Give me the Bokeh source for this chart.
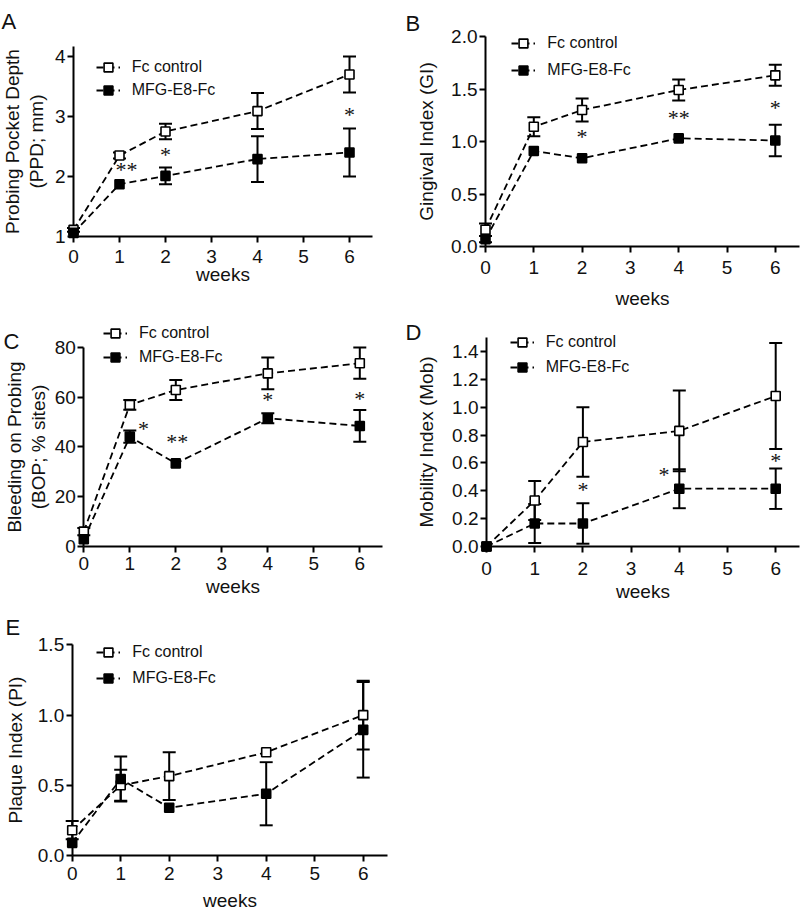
from bokeh.plotting import figure
from bokeh.models import (Range1d, FixedTicker, Whisker, TeeHead, ColumnDataSource,
                          Label, LabelSet, Legend, LegendItem, PrintfTickFormatter)
from bokeh.layouts import row, column
from bokeh.embed import file_html
from bokeh.resources import INLINE

# ---------------- data ----------------
weeks = [0, 1, 2, 4, 6]
x_ticks = [0, 1, 2, 3, 4, 5, 6]
x_tick_labels = ["0", "1", "2", "3", "4", "5", "6"]
series_names = ["Fc control", "MFG-E8-Fc"]
x_label = "weeks"

# A: Probing pocket depth
ppd_fc = [1.11, 2.35, 2.75, 3.09, 3.70]
ppd_fc_err = [0.03, 0.05, 0.13, 0.30, 0.30]
ppd_mfg = [1.06, 1.87, 2.01, 2.29, 2.40]
ppd_mfg_err = [0.0, 0.0, 0.14, 0.38, 0.40]
ppd_range = [1, 4.17]
ppd_ticks = [1, 2, 3, 4]
ppd_tick_labels = ["1", "2", "3", "4"]
ppd_star_x = [1.15, 2, 6]
ppd_star_y = [2.11, 2.36, 3.04]
ppd_star_t = ["**", "*", "*"]
ppd_ylabel = "Probing Pocket Depth\n(PPD; mm)"

# B: Gingival index
gi_fc = [0.16, 1.14, 1.30, 1.49, 1.63]
gi_fc_err = [0.06, 0.09, 0.11, 0.10, 0.10]
gi_mfg = [0.07, 0.91, 0.84, 1.03, 1.01]
gi_mfg_err = [0.03, 0.0, 0.0, 0.0, 0.15]
gi_range = [0, 2.0]
gi_ticks = [0, 0.5, 1.0, 1.5, 2.0]
gi_tick_labels = ["0.0", "0.5", "1.0", "1.5", "2.0"]
gi_star_x = [2, 4, 6]
gi_star_y = [1.05, 1.23, 1.32]
gi_star_t = ["*", "**", "*"]
gi_ylabel = "Gingival Index (GI)"

# C: Bleeding on probing
bop_fc = [5.8, 56.9, 62.9, 69.6, 73.7]
bop_fc_err = [1.5, 2.0, 4.0, 6.4, 6.3]
bop_mfg = [2.7, 44.1, 33.3, 51.5, 48.4]
bop_mfg_err = [0.0, 2.5, 0.0, 2.0, 6.4]
bop_range = [0, 80]
bop_ticks = [0, 20, 40, 60, 80]
bop_tick_labels = ["0", "20", "40", "60", "80"]
bop_star_x = [1.3, 2.03, 4, 6]
bop_star_y = [47.5, 42.1, 58.9, 59.6]
bop_star_t = ["*", "**", "*", "*"]
bop_ylabel = "Bleeding on Probing\n(BOP; % sites)"

# D: Mobility index
mob_fc = [0.0, 0.33, 0.75, 0.83, 1.08]
mob_fc_err = [0.0, 0.14, 0.25, 0.29, 0.38]
mob_mfg = [0.0, 0.165, 0.165, 0.415, 0.415]
mob_mfg_err = [0.0, 0.14, 0.145, 0.14, 0.145]
mob_range = [0, 1.5]
mob_ticks = [0, 0.2, 0.4, 0.6, 0.8, 1.0, 1.2, 1.4]
mob_tick_labels = ["0.0", "0.2", "0.4", "0.6", "0.8", "1.0", "1.2", "1.4"]
mob_star_x = [2, 3.68, 6]
mob_star_y = [0.41, 0.52, 0.62]
mob_star_t = ["*", "*", "*"]
mob_ylabel = "Mobility Index (Mob)"

# E: Plaque index
pi_fc = [0.18, 0.50, 0.565, 0.735, 1.0]
pi_fc_err = [0.065, 0.11, 0.17, 0.0, 0.245]
pi_mfg = [0.09, 0.545, 0.34, 0.44, 0.895]
pi_mfg_err = [0.0, 0.16, 0.0, 0.225, 0.34]
pi_range = [0, 1.5]
pi_ticks = [0, 0.5, 1.0, 1.5]
pi_tick_labels = ["0.0", "0.5", "1.0", "1.5"]
pi_star_x = []
pi_star_y = []
pi_star_t = []
pi_ylabel = "Plaque Index (PI)"

FONT = "Liberation Sans"
INK = "#111111"


def make_panel(letter, fc, fc_err, mfg, mfg_err, yr, yticks, yticklabels, fmt,
               sx, sy, st, ylabel, lay):
    fx, fy, fw, fh = lay["fig"]
    x0, ppw, ybot, ppu = lay["x0"], lay["ppw"], lay["ybot"], lay["ppu"]
    # the frame fills the whole figure; ranges chosen so the axes land where wanted
    xs = (fx - x0) / ppw
    xe = (fx + fw - x0) / ppw
    ys = yr[0] + (ybot - (fy + fh)) / ppu
    ye = yr[0] + (ybot - fy) / ppu

    p = figure(width=fw, height=fh, x_range=Range1d(xs, xe), y_range=Range1d(ys, ye),
               output_backend="svg", toolbar_location=None, title=None,
               min_border=0, min_border_left=0, min_border_right=0,
               min_border_top=0, min_border_bottom=0)
    p.outline_line_color = None
    p.xgrid.visible = False
    p.ygrid.visible = False
    p.background_fill_color = "white"
    p.border_fill_color = "white"

    for ax in (p.xaxis[0], p.yaxis[0]):
        ax.axis_line_width = 2
        ax.axis_line_color = "black"
        ax.major_tick_line_width = 2
        ax.major_tick_line_color = "black"
        ax.major_tick_out = 6
        ax.major_tick_in = 0
        ax.minor_tick_line_color = None
        ax.major_label_text_font = FONT
        ax.major_label_text_font_size = "19px"
        ax.major_label_text_color = INK
        ax.axis_label_text_font = FONT
        ax.axis_label_text_font_size = "19px"
        ax.axis_label_text_font_style = "normal"
        ax.axis_label_text_color = INK

    xa = p.xaxis[0]
    xa.ticker = FixedTicker(ticks=x_ticks)
    xa.major_label_overrides = dict(zip(x_ticks, x_tick_labels))
    xa.axis_label = x_label
    xa.fixed_location = yr[0]
    xa.bounds = (0, 6.5)
    xa.major_label_standoff = lay["xstand"][0]
    xa.axis_label_standoff = lay["xstand"][1]

    ya = p.yaxis[0]
    ya.ticker = FixedTicker(ticks=yticks)
    ya.formatter = PrintfTickFormatter(format=fmt)
    ya.major_label_overrides = dict(zip(yticks, yticklabels))
    ya.axis_label = ylabel
    ya.fixed_location = 0
    ya.bounds = (yr[0], yr[1])
    ya.major_label_standoff = 2
    ya.axis_label_standoff = lay["ystand"]
    ya.axis_label_text_line_height = 1.15

    dash = "7 4"
    items = []
    for vals, errs, fill in ((fc, fc_err, "white"), (mfg, mfg_err, "black")):
        lr = p.line(weeks, vals, line_color="black", line_width=1.8, line_dash=dash)
        b = [w for w, e in zip(weeks, errs) if e > 0]
        lo = [v - e for v, e in zip(vals, errs) if e > 0]
        hi = [v + e for v, e in zip(vals, errs) if e > 0]
        src = ColumnDataSource(dict(base=b, lower=lo, upper=hi))
        wh = Whisker(source=src, base="base", lower="lower", upper="upper",
                     line_color="black", line_width=2,
                     upper_head=TeeHead(size=13, line_width=2, line_color="black"),
                     lower_head=TeeHead(size=13, line_width=2, line_color="black"))
        p.add_layout(wh)
        mr = p.scatter(weeks, vals, marker="square", size=9, fill_color=fill,
                       line_color="black", line_width=1.6, level="overlay")
        items.append((lr, mr))

    # significance marks
    if sx:
        ssrc = ColumnDataSource(dict(x=sx, y=sy, t=st))
        p.add_layout(LabelSet(x="x", y="y", text="t", source=ssrc, text_align="center",
                              text_baseline="middle", y_offset=0,
                              text_font=FONT, text_font_size="22px", text_color=INK))

    # legend
    cx, r1, r2 = lay["leg"]
    gh = 22
    spacing = max(0, round((r2 - r1) - gh))
    leg_left = cx - 12
    leg_top = r1 - gh / 2
    leg_bottom = leg_top + 2 * gh + spacing
    legend = Legend(items=[LegendItem(label=series_names[0], renderers=list(items[0])),
                           LegendItem(label=series_names[1], renderers=list(items[1]))],
                    location=(leg_left - fx, (fy + fh) - leg_bottom),
                    glyph_width=24, glyph_height=gh, label_height=gh, label_standoff=12,
                    spacing=spacing, padding=0, margin=0,
                    border_line_color=None, background_fill_alpha=0,
                    label_text_font=FONT, label_text_font_size="16px",
                    label_text_color=INK)
    p.add_layout(legend)

    # panel letter
    lx, lb = lay["letter"]
    p.add_layout(Label(x=lx - fx, y=(fy + fh) - lb, x_units="screen", y_units="screen",
                       text=letter, text_font=FONT, text_font_size="22px",
                       text_align="left", text_baseline="alphabetic", text_color=INK))
    return p


# geometry in page pixels: figure box, x of week 0, px per week, y of axis, px per unit
lay_A = dict(fig=(0, 0, 400, 300), x0=73, ppw=46, ybot=236, ppu=60,
             leg=(107.7, 66.7, 89.3), letter=(1, 20.5), xstand=(7, -2), ystand=5)
lay_B = dict(fig=(400, 0, 400, 311), x0=485, ppw=48.3, ybot=246, ppu=105,
             leg=(523.3, 43.3, 70), letter=(405, 23), xstand=(8, 11), ystand=11)
lay_C = dict(fig=(0, 300, 400, 303), x0=83.3, ppw=46, ybot=545.5, ppu=2.48,
             leg=(115, 333.3, 357.3), letter=(3, 341), xstand=(5, 2), ystand=2)
lay_D = dict(fig=(400, 311, 400, 300), x0=486, ppw=48.2, ybot=546, ppu=139.3,
             leg=(521.7, 341.7, 366.7), letter=(405, 331.5), xstand=(9, 3), ystand=12)
lay_E = dict(fig=(0, 603, 400, 311), x0=71.7, ppw=48.5, ybot=855, ppu=140.4,
             leg=(108.3, 651.7, 677.3), letter=(5, 626.5), xstand=(5, 7), ystand=9)

pA = make_panel("A", ppd_fc, ppd_fc_err, ppd_mfg, ppd_mfg_err, ppd_range, ppd_ticks,
                ppd_tick_labels, "%d", ppd_star_x, ppd_star_y, ppd_star_t, ppd_ylabel, lay_A)
pB = make_panel("B", gi_fc, gi_fc_err, gi_mfg, gi_mfg_err, gi_range, gi_ticks,
                gi_tick_labels, "%.1f", gi_star_x, gi_star_y, gi_star_t, gi_ylabel, lay_B)
pC = make_panel("C", bop_fc, bop_fc_err, bop_mfg, bop_mfg_err, bop_range, bop_ticks,
                bop_tick_labels, "%d", bop_star_x, bop_star_y, bop_star_t, bop_ylabel, lay_C)
pD = make_panel("D", mob_fc, mob_fc_err, mob_mfg, mob_mfg_err, mob_range, mob_ticks,
                mob_tick_labels, "%.1f", mob_star_x, mob_star_y, mob_star_t, mob_ylabel, lay_D)
pE = make_panel("E", pi_fc, pi_fc_err, pi_mfg, pi_mfg_err, pi_range, pi_ticks,
                pi_tick_labels, "%.1f", pi_star_x, pi_star_y, pi_star_t, pi_ylabel, lay_E)

layout = row(column(pA, pC, pE, spacing=0), column(pB, pD, spacing=0), spacing=0)

with open("out.html", "w") as f:
    f.write(file_html(layout, INLINE))
